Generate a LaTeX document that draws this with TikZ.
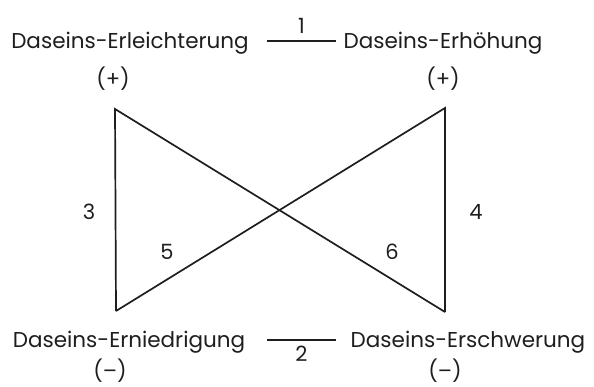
\documentclass[tikz,border=0pt]{standalone}
\usepackage{fontspec}
\setmainfont{Poppins}
\usetikzlibrary{positioning}
\definecolor{ink}{HTML}{1E1E1E}
\tikzset{
  term/.style={font=\fontsize{21.5}{24}\selectfont, text=ink, inner sep=0pt, anchor=center},
  sign/.style={font=\fontsize{21}{24}\selectfont, text=ink, inner sep=0pt},
  num/.style={font=\fontsize{21}{24}\selectfont, text=ink, inner sep=0pt},
  edge/.style={draw=ink, line width=1.7pt, line join=miter},
  bar/.style={draw=ink, line width=1.2pt},
}

\begin{document}
\begin{tikzpicture}[x=1pt, y=-1pt]
    \useasboundingbox (0,0) rectangle (594,387);
    % four corners of the figure
    \coordinate (ol) at (115,109);
    \coordinate (or) at (445,108);
    \coordinate (ul) at (116,311);
    \coordinate (ur) at (445,312);
    % ends of the two short bars
    \coordinate (b1a) at (267,41);
    \coordinate (b1b) at (336,41);
    \coordinate (b2a) at (267,340);
    \coordinate (b2b) at (336,340);

    \node[term] (erl) at (130,43) {Daseins-Erleichterung};
    \node[term] (erh) at (443,43) {Daseins-Erhöhung};
    \node[term] (ern) at (129,342) {Daseins-Erniedrigung};
    \node[term] (ers) at (468,342) {Daseins-Erschwerung};
    \node[sign] (pl) at (113,79) {(+)};
    \node[sign] (pr) at (443,79) {(+)};
    \node[sign] (ml) at (110,371) {(--)};
    \node[sign] (mr) at (445,371) {(--)};

    \draw[bar] (b1a) -- node[num, above=7pt] (n1) {1} (b1b);
    \draw[bar] (b2a) -- node[num, below=5pt] (n2) {2} (b2b);

    \draw[edge] (ul) -- (ol) -- (ur);
    \draw[edge] (ul) -- (or) -- (ur);

    \node[num] (n3) at (89,212) {3};
    \node[num] (n4) at (476,212) {4};
    \node[num] (n5) at (167,252) {5};
    \node[num] (n6) at (392,252) {6};
\end{tikzpicture}
\end{document}
